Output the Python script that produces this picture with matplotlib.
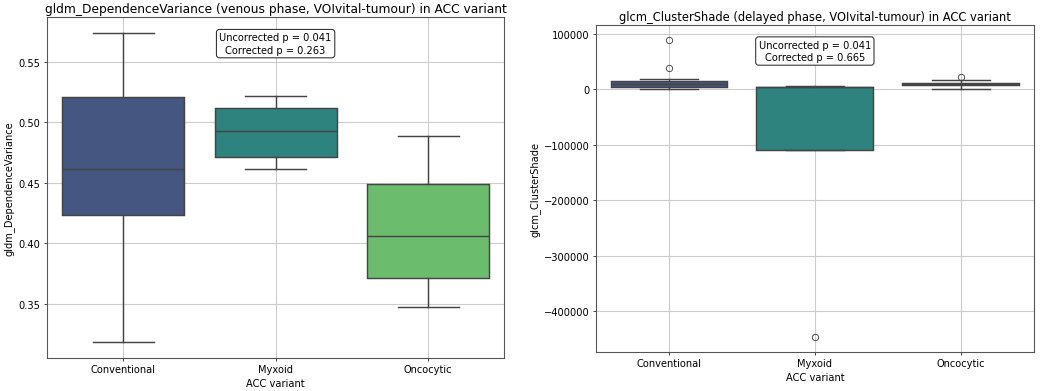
import matplotlib
matplotlib.use("Agg")
import matplotlib.pyplot as plt
import seaborn as sns

variants = ["Conventional", "Myxoid", "Oncocytic"]

# left panel: gldm_DependenceVariance (venous phase)
dv_whislo = [0.318, 0.4616, 0.3475]
dv_q1 = [0.4236, 0.4709, 0.3709]
dv_med = [0.4616, 0.4924, 0.4062]
dv_q3 = [0.5210, 0.5122, 0.4489]
dv_whishi = [0.5742, 0.5220, 0.4888]
dv_fliers = [[], [], []]
dv_ptext = "Uncorrected p = 0.041\nCorrected p = 0.263"

# right panel: glcm_ClusterShade (delayed phase)
cs_whislo = [0, -109000, 0]
cs_q1 = [4100, -109000, 7700]
cs_med = [9000, 4200, 9000]
cs_q3 = [15600, 4800, 11300]
cs_whishi = [19300, 6000, 16800]
cs_fliers = [[88800, 39000], [-447000], [22900]]
cs_ptext = "Uncorrected p = 0.041\nCorrected p = 0.665"

pal = [sns.desaturate(c, 0.75) for c in sns.color_palette("viridis", 3)]
lc = "#444444"

fig = plt.figure(figsize=(16, 6.03), dpi=65)


def panel(ax, lo, q1, med, q3, hi, fl, title, ylab, ptext, tsize):
    stats = []
    for i in range(len(variants)):
        stats.append(dict(whislo=lo[i], q1=q1[i], med=med[i], q3=q3[i],
                          whishi=hi[i], fliers=fl[i], label=variants[i]))
    bp = ax.bxp(stats, positions=range(len(variants)), widths=0.8,
                patch_artist=True, showfliers=True,
                boxprops=dict(edgecolor=lc, linewidth=1.6),
                whiskerprops=dict(color=lc, linewidth=1.6),
                capprops=dict(color=lc, linewidth=1.6),
                medianprops=dict(color=lc, linewidth=1.6),
                flierprops=dict(marker="o", markerfacecolor="none",
                                markeredgecolor=lc, markersize=7))
    for patch, c in zip(bp["boxes"], pal):
        patch.set_facecolor(c)
    for cap in bp["caps"]:
        m = cap.get_xdata().mean()
        cap.set_xdata([m - 0.2, m + 0.2])
    ax.set_xlim(-0.5, 2.5)
    ax.set_xticks(range(len(variants)))
    ax.set_xticklabels(variants)
    ax.grid(True, color="#cccccc", linewidth=1.2)
    ax.set_axisbelow(True)
    for s in ax.spines.values():
        s.set_color("#555555")
        s.set_linewidth(1.2)
    ax.set_title(title, fontsize=tsize)
    ax.set_ylabel(ylab, fontsize=11)
    ax.set_xlabel("ACC variant", fontsize=11)
    ax.tick_params(labelsize=11)
    ax.text(0.5, 0.955, ptext, transform=ax.transAxes, ha="center", va="top",
            fontsize=11, linespacing=1.3,
            bbox=dict(boxstyle="round,pad=0.3", facecolor="white",
                      edgecolor="#333333", linewidth=1.2))


ax1 = fig.add_axes([0.045, 0.084, 0.440, 0.870])
panel(ax1, dv_whislo, dv_q1, dv_med, dv_q3, dv_whishi, dv_fliers,
      "gldm_DependenceVariance (venous phase, VOIvital-tumour) in ACC variant",
      "gldm_DependenceVariance", dv_ptext, 13.5)
ax1.set_ylim(0.305, 0.587)
ax1.set_yticks([0.35, 0.40, 0.45, 0.50, 0.55])

ax2 = fig.add_axes([0.573, 0.0995, 0.421, 0.834])
panel(ax2, cs_whislo, cs_q1, cs_med, cs_q3, cs_whishi, cs_fliers,
      "glcm_ClusterShade (delayed phase, VOIvital-tumour) in ACC variant",
      "glcm_ClusterShade", cs_ptext, 12.8)
ax2.set_ylim(-474000, 116000)

fig.savefig("out.png", dpi=65)
